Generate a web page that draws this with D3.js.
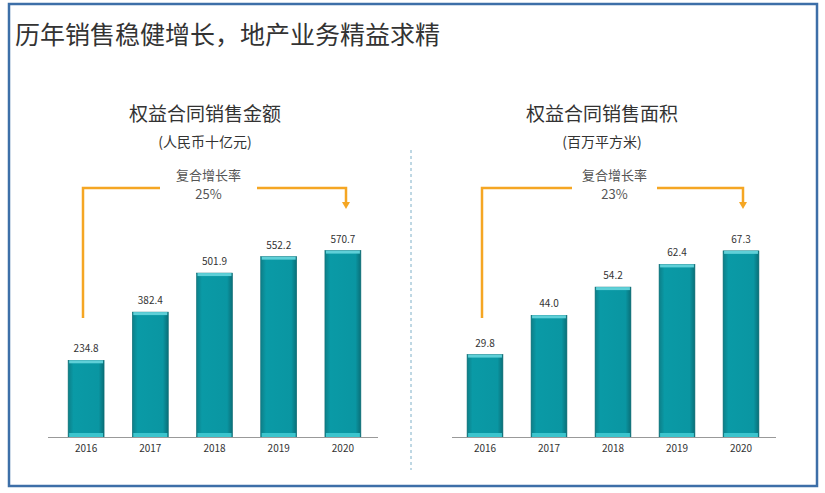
<!DOCTYPE html><html><head><meta charset="utf-8">
<script src="https://cdn.jsdelivr.net/npm/d3@7"></script>
<style>body{margin:0;background:#fff}text{font-family:"Noto Sans CJK SC","Noto Sans",sans-serif}</style></head><body>
<svg id="c" width="825" height="493"></svg>
<script>
const years=["2016","2017","2018","2019","2020"];
const salesAmount=[234.8,382.4,501.9,552.2,570.7];
const salesArea=[29.8,44.0,54.2,62.4,67.3];
const titles=["权益合同销售金额","权益合同销售面积"];
const units=["(人民币十亿元)","(百万平方米)"];
const cagr=["25%","23%"];
const svg=d3.select("#c");
svg.append("rect").attr("x",9).attr("y",4).attr("width",808).attr("height",482).attr("fill","none").attr("stroke","#3d6fa8").attr("stroke-width",2.5);
svg.append("text").attr("x",15).attr("y",44).attr("font-size",25).attr("fill","#333").text("历年销售稳健增长，地产业务精益求精");
svg.append("line").attr("x1",411).attr("x2",411).attr("y1",150).attr("y2",470).attr("stroke","#7fb0c8").attr("stroke-dasharray","3,3");
const defs=svg.append("defs");
const g=defs.append("linearGradient").attr("id","bg").attr("x1",0).attr("x2",1);
g.append("stop").attr("offset",0).attr("stop-color","#0d7f88");
g.append("stop").attr("offset",0.15).attr("stop-color","#0a9aa6");
g.append("stop").attr("offset",0.85).attr("stop-color","#0a96a2");
g.append("stop").attr("offset",1).attr("stop-color","#0a6f78");
const panels=[{data:salesAmount,x0:48,x1:378,r:[54,375],ymax:1338,cx:205,br:[83,160,257,346]},
{data:salesArea,x0:452,x1:776,r:[453,773],ymax:158,cx:602,br:[482,572,657,743]}];
panels.forEach((p,i)=>{
 const base=437;
 const y=d3.scaleLinear().domain([0,p.ymax]).range([base,0]);
 const x=d3.scaleBand().domain(years).range(p.r).paddingInner(0.44).paddingOuter(0.22);
 svg.append("text").attr("x",p.cx).attr("y",121).attr("text-anchor","middle").attr("font-size",19).attr("fill","#333").text(titles[i]);
 svg.append("text").attr("x",p.cx).attr("y",147).attr("text-anchor","middle").attr("font-size",14).attr("fill","#333").text(units[i]);
 svg.selectAll(null).data(p.data).enter().append("rect").attr("x",(d,j)=>x(years[j])).attr("width",x.bandwidth())
  .attr("y",d=>y(d)).attr("height",d=>base-y(d)).attr("fill","url(#bg)").attr("stroke","#0b6a72").attr("stroke-width",0.6);
 svg.selectAll(null).data(p.data).enter().append("rect").attr("x",(d,j)=>x(years[j])+1).attr("width",x.bandwidth()-2)
  .attr("y",d=>y(d)).attr("height",3).attr("fill","#5fd0d8");
 svg.selectAll(null).data(p.data).enter().append("rect").attr("x",(d,j)=>x(years[j])+1).attr("width",x.bandwidth()-2)
  .attr("y",base-4).attr("height",4).attr("fill","#3cc4cd");
 svg.selectAll(null).data(p.data).enter().append("text").attr("x",(d,j)=>x(years[j])+x.bandwidth()/2).attr("y",d=>y(d)-8)
  .attr("text-anchor","middle").attr("font-size",10).attr("fill","#333").text(d=>d.toFixed(1));
 svg.append("line").attr("x1",p.x0).attr("x2",p.x1).attr("y1",base+0.5).attr("y2",base+0.5).attr("stroke","#999");
 svg.selectAll(null).data(years).enter().append("text").attr("x",d=>x(d)+x.bandwidth()/2).attr("y",base+15)
  .attr("text-anchor","middle").attr("font-size",10).attr("fill","#333").text(d=>d);
 const b=p.br, o="#f5a623";
 svg.append("path").attr("d",`M${b[0]},318V188H${b[1]}`).attr("fill","none").attr("stroke",o).attr("stroke-width",2.5);
 svg.append("path").attr("d",`M${b[2]},188H${b[3]}V203`).attr("fill","none").attr("stroke",o).attr("stroke-width",2.5);
 svg.append("path").attr("d",`M${b[3]-4},202L${b[3]+4},202L${b[3]},209Z`).attr("fill",o);
 const mx=(b[1]+b[2])/2;
 svg.append("text").attr("x",mx).attr("y",180).attr("text-anchor","middle").attr("font-size",13).attr("fill","#555").text("复合增长率");
 svg.append("text").attr("x",mx).attr("y",199).attr("text-anchor","middle").attr("font-size",13).attr("fill","#555").text(cagr[i]);
});
</script></body></html>
